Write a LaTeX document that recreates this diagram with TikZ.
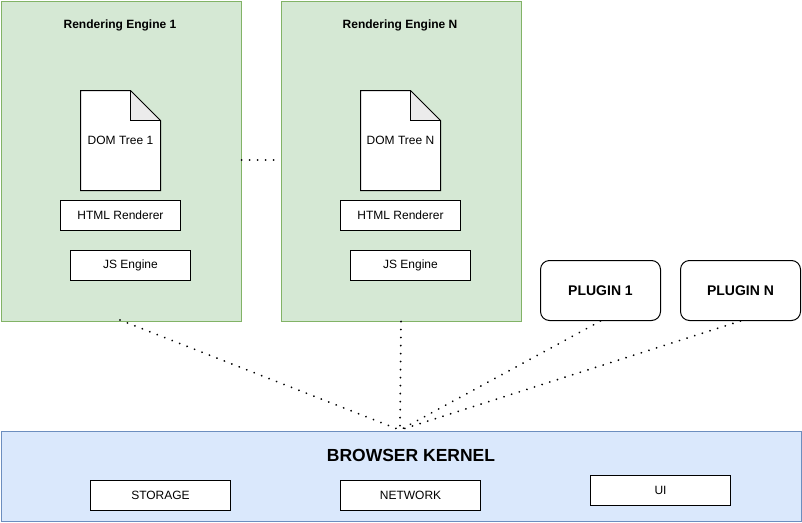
\documentclass[tikz,border=0pt]{standalone}
\usepackage{fontspec}
\setmainfont{Liberation Sans}
\usetikzlibrary{shapes.geometric}
\definecolor{gfill}{HTML}{D5E8D4}
\definecolor{gline}{HTML}{82B366}
\definecolor{bfill}{HTML}{DAE8FC}
\definecolor{bline}{HTML}{6C8EBF}
\definecolor{foldc}{HTML}{EBEBEB}
\tikzset{
  engine/.style={draw=gline, fill=gfill, line width=1pt, minimum width=240pt, minimum height=320pt, inner sep=0pt},
  kernel/.style={draw=bline, fill=bfill, line width=1pt, minimum width=800pt, minimum height=90pt, inner sep=0pt},
  sbox/.style={draw=black, fill=white, line width=1pt, minimum height=30pt, inner sep=0pt, font=\fontsize{12}{14}\selectfont},
  plug/.style={draw=black, fill=white, line width=1pt, rounded corners=9pt, minimum width=120pt, minimum height=60pt, inner sep=0pt, font=\fontsize{14}{16}\selectfont\bfseries},
  lbl/.style={inner sep=0pt, font=\fontsize{12}{14}\selectfont},
  ttl/.style={inner sep=0pt, font=\fontsize{12}{14}\selectfont\bfseries},
  dots/.style={line width=2pt, dash pattern=on 0.01pt off 8pt, line cap=round},
}
\newcommand{\docshape}[3]{% x, y (top-left), name
  \fill[white] (#1,#2) -- (#1+50,#2) -- (#1+80,#2+30) -- (#1+80,#2+100) -- (#1,#2+100) -- cycle;
  \fill[foldc] (#1+50,#2) -- (#1+50,#2+30) -- (#1+80,#2+30) -- cycle;
  \draw[line width=1pt, line join=miter] (#1,#2) -- (#1+50,#2) -- (#1+80,#2+30) -- (#1+80,#2+100) -- (#1,#2+100) -- cycle;
  \draw[line width=1pt] (#1+50,#2) -- (#1+50,#2+30) -- (#1+80,#2+30);
  \coordinate (#3) at (#1+40,#2+50);
}
\begin{document}
\begin{tikzpicture}[x=1pt, y=-1pt]
\useasboundingbox (0,0) rectangle (802,522);
% engines
\node[engine, anchor=north west] (e1) at (0.5,0.5) {};
\node[engine, anchor=north west] (en) at (280.5,0.5) {};
\node[ttl] (e1t) at (120,25) {Rendering Engine 1};
\node[ttl] (ent) at (400,25) {Rendering Engine N};
\docshape{80.5}{90.5}{d1c}
\node[lbl] (d1) at (d1c) {DOM Tree 1};
\docshape{360.5}{90.5}{dnc}
\node[lbl] (dn) at (dnc) {DOM Tree N};
\node[sbox, minimum width=120pt] (h1) at (120.5,215.5) {HTML Renderer};
\node[sbox, minimum width=120pt] (j1) at (130.5,265.5) {JS Engine};
\node[sbox, minimum width=120pt] (hn) at (400.5,215.5) {HTML Renderer};
\node[sbox, minimum width=120pt] (jn) at (410.5,265.5) {JS Engine};
% plugins
\node[plug] (p1) at (600.5,290.5) {PLUGIN 1};
\node[plug] (pn) at (740.5,290.5) {PLUGIN N};
% kernel
\node[kernel, anchor=north west] (k) at (0.5,430.5) {};
\node[inner sep=0pt, font=\fontsize{17.5}{20}\selectfont\bfseries] (kt) at (411,455) {BROWSER KERNEL};
\node[sbox, minimum width=140pt] (st) at (160.5,495.5) {STORAGE};
\node[sbox, minimum width=140pt] (nw) at (410.5,495.5) {NETWORK};
\node[sbox, minimum width=140pt] (ui) at (660.5,490.5) {UI};
% connectors
\coordinate (kc) at (400,430);
\coordinate (e1s) at (120,320);
\draw[dots] (e1.east |- 0,160) -- (en.west |- 0,160);
\draw[dots] (e1s) -- (kc);
\draw[dots] (en.south) -- (kc);
\draw[dots] (p1.south) -- (kc);
\draw[dots] (pn.south) -- (kc);
\end{tikzpicture}
\end{document}
